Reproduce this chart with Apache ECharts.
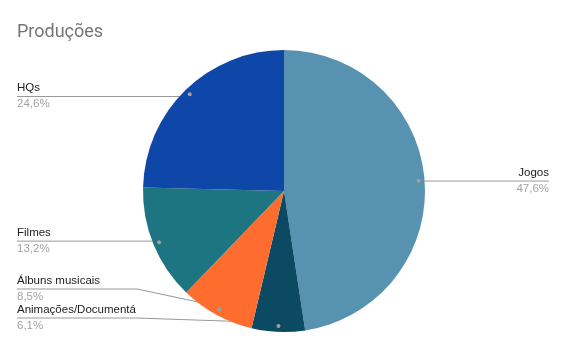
<!DOCTYPE html>
<html>
<head>
<meta charset="utf-8">
<script src="https://cdn.jsdelivr.net/npm/echarts@6/dist/echarts.min.js"></script>
<style>
html,body{margin:0;padding:0;background:#fff;}
#chart{width:567px;height:351px;}
</style>
</head>
<body>
<div id="chart"></div>
<script>
// ---- data ----
const titleText = 'Produções';
const categories = ['Jogos', 'Animações/Documentá', 'Álbuns musicais', 'Filmes', 'HQs'];
const values = [47.6, 6.1, 8.5, 13.2, 24.6];
const percentLabels = ['47,6%', '6,1%', '8,5%', '13,2%', '24,6%'];

// ---- layout / style ----
const colors = ['#5892b1', '#0c4a63', '#ff6d2e', '#1d7581', '#0e47a8'];
const CX = 284, CY = 191, R = 141, DOT_R = 132;
const LEFT_X = 17, RIGHT_X = 549, BOTTOM_LINE = 318, GAP = 29, BEND_X = 137;

const total = values.reduce((a, b) => a + b, 0);
let cum = 0;
const layout = values.map((v) => {
  const f = (cum + v / 2) / total;
  cum += v;
  const th = Math.PI / 2 - 2 * Math.PI * f;
  const dx = CX + DOT_R * Math.cos(th);
  const dy = CY - DOT_R * Math.sin(th);
  return { dx, dy, side: dx > CX ? 'right' : 'left', lineY: dy };
});
// simple collision avoidance for left-side labels (push upward from bottom)
const leftIdx = layout.map((l, i) => i).filter(i => layout[i].side === 'left')
  .sort((a, b) => layout[b].dy - layout[a].dy);
let limit = BOTTOM_LINE;
leftIdx.forEach(i => {
  const y = Math.min(layout[i].dy, limit);
  layout[i].lineY = y;
  limit = y - GAP;
});

const data = categories.map((c, i) => ({ name: c, value: values[i], itemStyle: { color: colors[i] } }));

const chart = echarts.init(document.getElementById('chart'), null, { renderer: 'canvas' });
chart.setOption({
  animation: false,
  backgroundColor: '#fff',
  title: {
    text: titleText, left: 12, top: 18,
    textStyle: { fontFamily: 'Roboto', fontSize: 18, fontWeight: 'normal', color: '#757575' }
  },
  series: [
    {
      type: 'pie',
      center: [CX, CY],
      radius: [0, R],
      startAngle: 90,
      clockwise: true,
      avoidLabelOverlap: false,
      silent: true,
      data: data,
      label: {
        show: true,
        position: 'outside',
        formatter: (p) => '{n|' + p.name + '}\n{p|' + percentLabels[p.dataIndex] + '}',
        rich: {
          n: { fontFamily: 'Liberation Sans', fontSize: 11.5, color: '#222', lineHeight: 17 },
          p: { fontFamily: 'Liberation Sans', fontSize: 11.5, color: '#a3a3a3', lineHeight: 15 }
        }
      },
      labelLine: { show: true, smooth: false, lineStyle: { color: '#999', width: 1 } },
      labelLayout: (params) => {
        const L = layout[params.dataIndex];
        const left = L.side === 'left';
        const edgeX = left ? LEFT_X : RIGHT_X;
        const bend = (Math.abs(L.lineY - L.dy) < 0.5) ? [L.dx, L.dy] : [BEND_X, L.lineY];
        return {
          x: edgeX,
          y: L.lineY - 17,
          align: left ? 'left' : 'right',
          verticalAlign: 'top',
          labelLinePoints: [[L.dx, L.dy], bend, [edgeX, L.lineY]]
        };
      }
    },
    {
      type: 'pie',
      center: [CX, CY],
      radius: [DOT_R - 7, DOT_R + 7],
      startAngle: 90,
      clockwise: true,
      silent: true,
      z: 5,
      data: categories.map((c, i) => ({ name: c, value: values[i] })),
      itemStyle: { color: 'rgba(0,0,0,0)', borderWidth: 0 },
      label: {
        show: true,
        position: 'inside',
        formatter: '{d|}',
        rich: { d: { width: 4, height: 4, borderRadius: 2, backgroundColor: '#a0a0a0' } }
      },
      labelLine: { show: false }
    }
  ]
});
</script>
</body>
</html>
